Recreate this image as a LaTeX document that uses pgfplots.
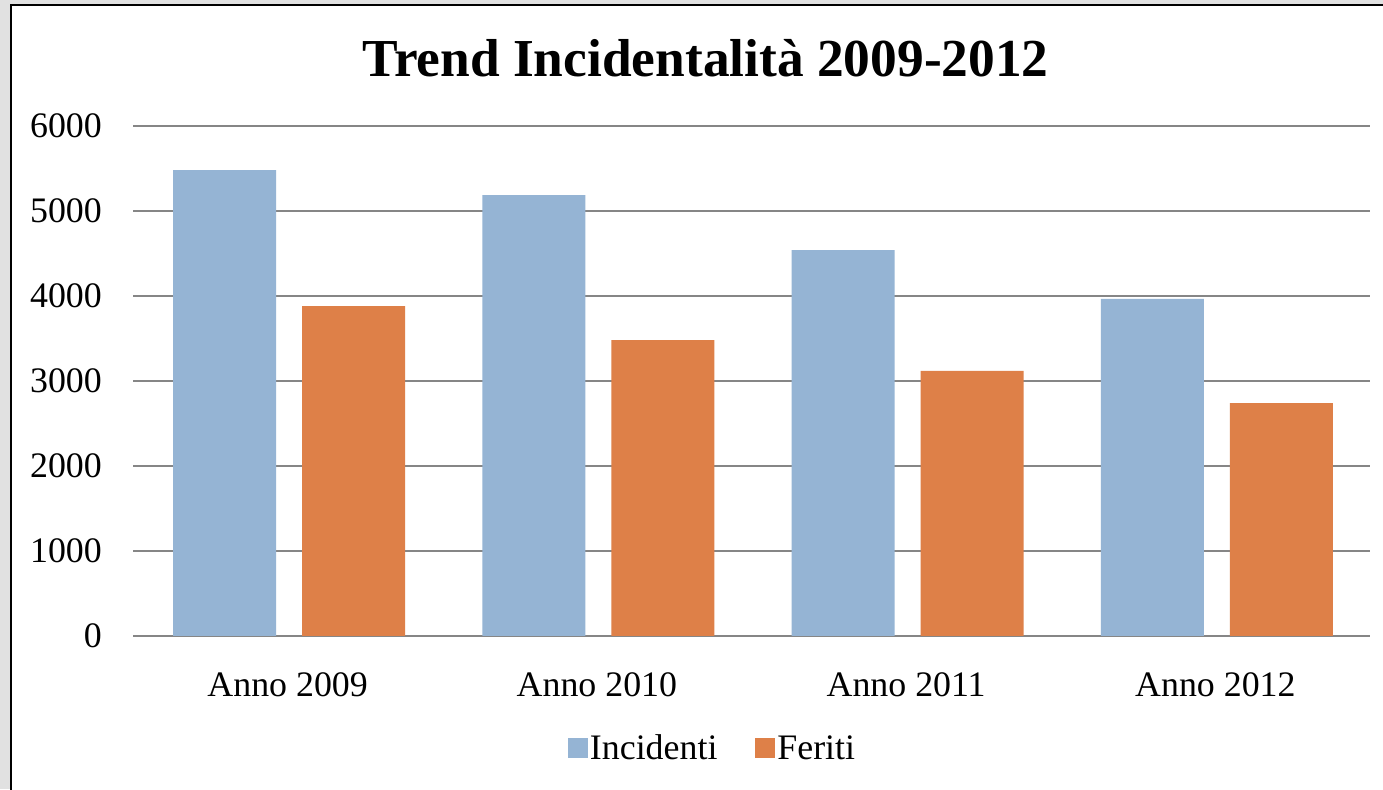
\documentclass[border=0pt]{standalone}
\usepackage{fontspec}
\setmainfont{Liberation Serif}
\usepackage{pgfplots}
\pgfplotsset{compat=1.18}
\definecolor{incblue}{RGB}{149,180,212}
\definecolor{ferorange}{RGB}{222,128,72}
\definecolor{bggray}{RGB}{225,225,225}
\definecolor{gridgray}{RGB}{134,134,134}
\begin{document}
\begin{tikzpicture}[x=1bp,y=1bp]
\path[use as bounding box] (0,0) rectangle (1383,789);
\clip (0,0) rectangle (1383,789);
\fill[bggray] (0,0) rectangle (1383,789);
\draw[black, line width=2bp, fill=white] (11,-10) rectangle (1400,783.5);
\node[anchor=base, font=\fontsize{53.6}{53.6}\selectfont\bfseries] at (705.5,712) {Trend Incidentalità 2009-2012};
\begin{axis}[
  at={(133bp,153bp)}, anchor=south west, scale only axis,
  width=1237bp, height=510bp,
  xmin=-0.5, xmax=3.5, ymin=0, ymax=6000,
  ytick={0,1000,2000,3000,4000,5000,6000},
  xtick={0,1,2,3},
  xticklabels={Anno 2009,Anno 2010,Anno 2011,Anno 2012},
  /pgf/number format/assume math mode=true,
  /pgf/number format/1000 sep={},
  axis line style={draw=none},
  tick style={draw=none},
  ymajorgrids, grid style={gridgray, line width=1.5bp},
  yticklabel style={font=\fontsize{36}{36}\selectfont, inner sep=0pt, xshift=-31bp},
  xticklabel style={font=\fontsize{36}{36}\selectfont, inner sep=0pt, yshift=-32bp},
  ybar, bar width=103bp,
  legend style={at={(0.4685,-0.2196)}, anchor=center, draw=none, fill=none,
    legend columns=2, font=\fontsize{36}{36}\selectfont,
    /tikz/every even column/.append style={column sep=36bp}},
  legend image code/.code={\fill[#1] (0bp,-10bp) rectangle (20bp,10bp);},
]
\addplot[fill=incblue, draw=none, bar shift=-63bp] coordinates {(0,5482) (1,5188) (2,4541) (3,3965)};
\addplot[fill=ferorange, draw=none, bar shift=66bp] coordinates {(0,3882) (1,3482) (2,3118) (3,2741)};
\legend{Incidenti, Feriti}
\end{axis}
\end{tikzpicture}
\end{document}
